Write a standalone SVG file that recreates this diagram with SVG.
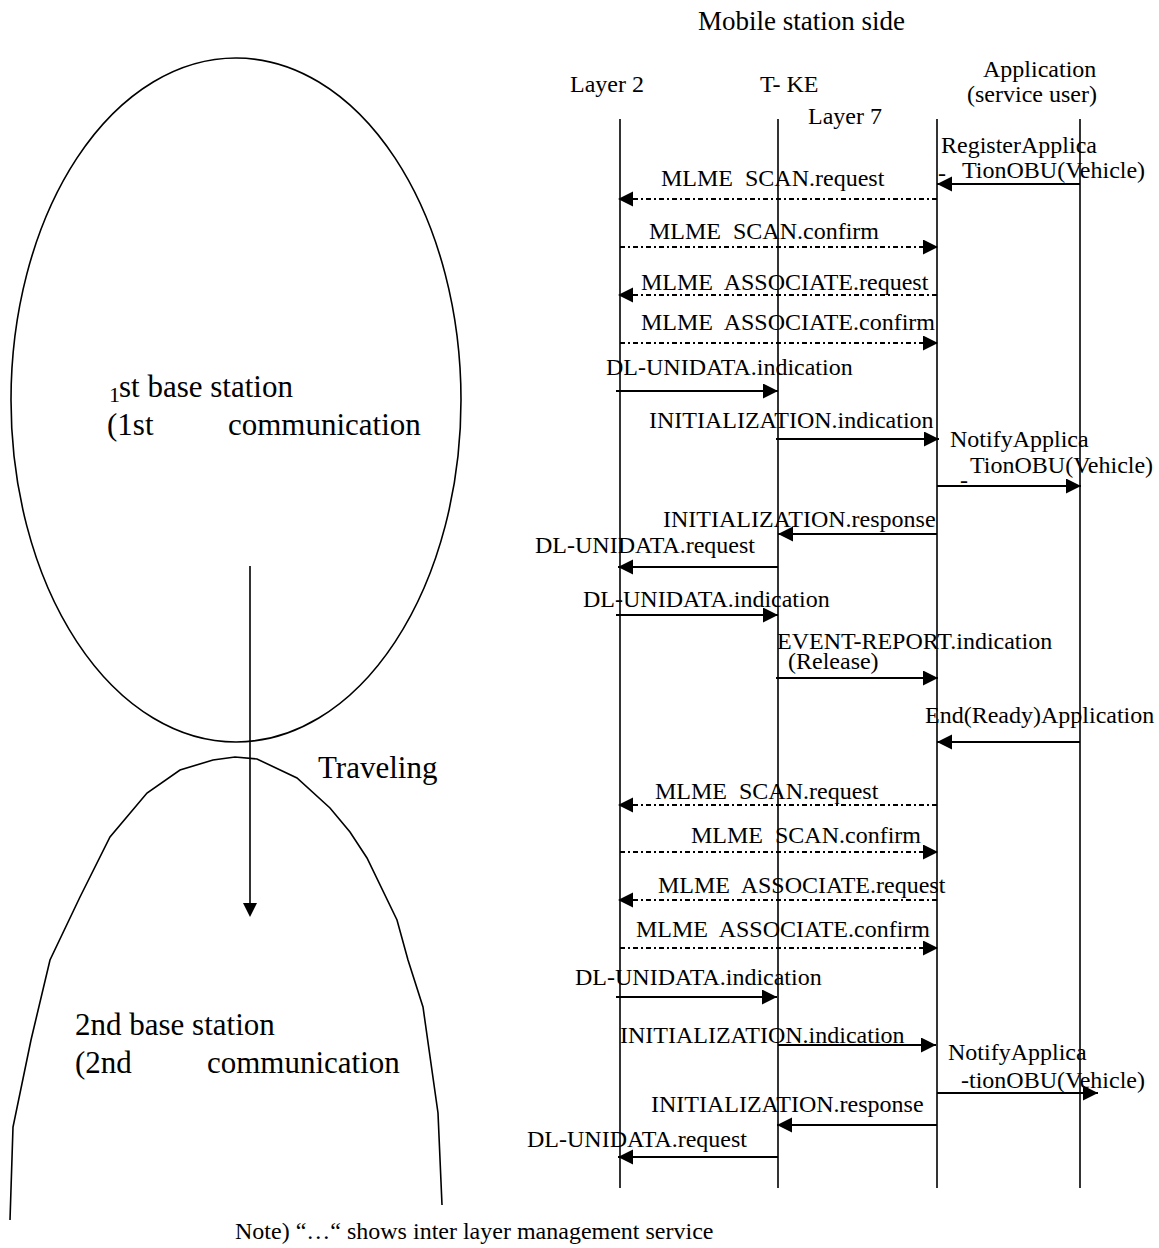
<svg xmlns="http://www.w3.org/2000/svg" width="1159" height="1248" viewBox="0 0 1159 1248">
<style>
text{font-family:"Liberation Serif","Times New Roman",serif;font-size:24px;fill:#000;white-space:pre}
.big{font-size:31px}
.life{stroke:#000;stroke-width:1.6;fill:none}
.msg{stroke:#000;stroke-width:2;fill:none}
.dash{stroke:#000;stroke-width:2;fill:none;stroke-dasharray:5 3 2 3}
.shape{stroke:#000;stroke-width:1.6;fill:none}
</style>
<defs>
<marker id="ah" markerUnits="userSpaceOnUse" markerWidth="16" markerHeight="16" refX="15" refY="7.5" orient="auto">
<path d="M0,0 L15,7.5 L0,15 Z" fill="#000"/>
</marker>
</defs>
<rect width="1159" height="1248" fill="#fff"/>

<g id="station1">
<ellipse class="shape" cx="236" cy="400" rx="225" ry="342"/>
<text x="109" y="402" style="font-size:22px">1</text>
<text class="big" x="119" y="397">st base station</text>
<text class="big" x="107" y="435">(1st</text>
<text class="big" x="228" y="435">communication</text>
</g>

<g id="station2">
<polyline class="shape" points="10,1220 13,1127 31,1040 50,960 80,897 110,837 147,793 180,770 213,760 235,757 257,759 297,778 330,808 350,832 367,858 397,920 408,960 423,1007 438,1113 442,1205"/>
<text class="big" x="75" y="1035">2nd base station</text>
<text class="big" x="75" y="1073">(2nd</text>
<text class="big" x="207" y="1073">communication</text>
</g>

<g id="traveling">
<line class="shape" x1="250" y1="566" x2="250" y2="904"/>
<polygon points="243,903 257,903 250,917" fill="#000"/>
<text class="big" x="318" y="778">Traveling</text>
</g>

<g id="header">
<text x="698" y="30" style="font-size:27px">Mobile station side</text>
</g>

<g id="layer2">
<text x="570" y="92">Layer 2</text>
<line class="life" x1="620" y1="119" x2="620" y2="1188"/>
</g>
<g id="tke">
<text x="760" y="92">T- KE</text>
<line class="life" x1="778" y1="119" x2="778" y2="1188"/>
</g>
<g id="layer7">
<text x="808" y="124">Layer 7</text>
<line class="life" x1="937" y1="119" x2="937" y2="1188"/>
</g>
<g id="application">
<text x="983" y="77">Application</text>
<text x="967" y="102">(service user)</text>
<line class="life" x1="1080" y1="119" x2="1080" y2="1188"/>
</g>

<g id="connectors">
<line class="msg" x1="1080" y1="184" x2="937" y2="184" marker-end="url(#ah)"/>
<line class="dash" x1="937" y1="199" x2="618" y2="199" marker-end="url(#ah)"/>
<line class="dash" x1="620" y1="247" x2="938" y2="247" marker-end="url(#ah)"/>
<line class="dash" x1="937" y1="295" x2="618" y2="295" marker-end="url(#ah)"/>
<line class="dash" x1="620" y1="343" x2="938" y2="343" marker-end="url(#ah)"/>
<line class="msg" x1="616" y1="391" x2="778" y2="391" marker-end="url(#ah)"/>
<line class="msg" x1="776" y1="439" x2="939" y2="439" marker-end="url(#ah)"/>
<line class="msg" x1="937" y1="486" x2="1081" y2="486" marker-end="url(#ah)"/>
<line class="msg" x1="937" y1="534" x2="778" y2="534" marker-end="url(#ah)"/>
<line class="msg" x1="778" y1="567" x2="618" y2="567" marker-end="url(#ah)"/>
<line class="msg" x1="616" y1="615" x2="778" y2="615" marker-end="url(#ah)"/>
<line class="msg" x1="776" y1="678" x2="938" y2="678" marker-end="url(#ah)"/>
<line class="msg" x1="1080" y1="742" x2="937" y2="742" marker-end="url(#ah)"/>
<line class="dash" x1="937" y1="805" x2="618" y2="805" marker-end="url(#ah)"/>
<line class="dash" x1="620" y1="852" x2="938" y2="852" marker-end="url(#ah)"/>
<line class="dash" x1="937" y1="900" x2="618" y2="900" marker-end="url(#ah)"/>
<line class="dash" x1="620" y1="948" x2="938" y2="948" marker-end="url(#ah)"/>
<line class="msg" x1="616" y1="997" x2="777" y2="997" marker-end="url(#ah)"/>
<line class="msg" x1="778" y1="1045" x2="936" y2="1045" marker-end="url(#ah)"/>
<line class="msg" x1="937" y1="1093" x2="1098" y2="1093" marker-end="url(#ah)"/>
<line class="msg" x1="937" y1="1125" x2="777" y2="1125" marker-end="url(#ah)"/>
<line class="msg" x1="778" y1="1157" x2="618" y2="1157" marker-end="url(#ah)"/>
</g>

<g id="labels">
<text x="941" y="153">RegisterApplica</text>
<text x="938" y="181">-</text>
<text x="962" y="178">TionOBU(Vehicle)</text>
<text x="661" y="186">MLME  SCAN.request</text>
<text x="649" y="239">MLME  SCAN.confirm</text>
<text x="641" y="290">MLME  ASSOCIATE.request</text>
<text x="641" y="330">MLME  ASSOCIATE.confirm</text>
<text x="606" y="375">DL-UNIDATA.indication</text>
<text x="649" y="428">INITIALIZATION.indication</text>
<text x="950" y="447">NotifyApplica</text>
<text x="960" y="488">-</text>
<text x="970" y="473">TionOBU(Vehicle)</text>
<text x="663" y="527">INITIALIZATION.response</text>
<text x="535" y="553">DL-UNIDATA.request</text>
<text x="583" y="607">DL-UNIDATA.indication</text>
<text x="777" y="649">EVENT-REPORT.indication</text>
<text x="788" y="669">(Release)</text>
<text x="925" y="723">End(Ready)Application</text>
<text x="655" y="799">MLME  SCAN.request</text>
<text x="691" y="843">MLME  SCAN.confirm</text>
<text x="658" y="893">MLME  ASSOCIATE.request</text>
<text x="636" y="937">MLME  ASSOCIATE.confirm</text>
<text x="575" y="985">DL-UNIDATA.indication</text>
<text x="620" y="1043">INITIALIZATION.indication</text>
<text x="948" y="1060">NotifyApplica</text>
<text x="961" y="1088">-tionOBU(Vehicle)</text>
<text x="651" y="1112">INITIALIZATION.response</text>
<text x="527" y="1147">DL-UNIDATA.request</text>
</g>

<g id="note">
<text x="235" y="1239">Note) “…“ shows inter layer management service</text>
</g>
</svg>
